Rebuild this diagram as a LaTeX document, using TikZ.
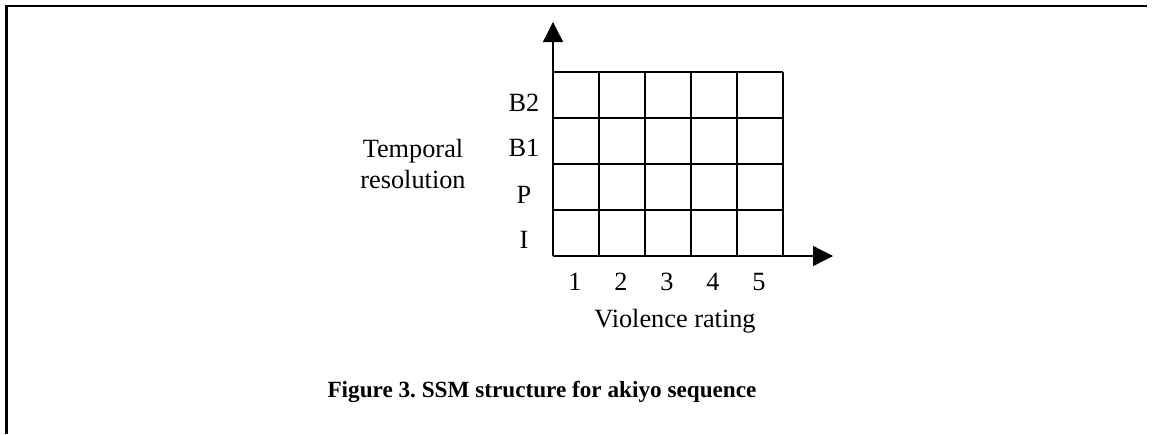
\documentclass[tikz,border=0pt]{standalone}
\usepackage{fontspec}
\setmainfont{Liberation Serif}
\usetikzlibrary{arrows.meta}
\frenchspacing
\begin{document}
\begin{tikzpicture}[x=1pt,y=-1pt,
  lbl/.style={inner sep=0pt,font=\fontsize{26.3}{31}\selectfont},
  captext/.style={inner sep=0pt,font=\fontsize{23.2}{28}\selectfont\bfseries},
  gridline/.style={line width=1.3pt},
  axis/.style={line width=1.3pt,-{Triangle[length=20pt,width=20pt]}},
  frame/.style={line width=2.2pt}]
\useasboundingbox (0,0) rectangle (1156,434);
% frame
\draw[frame] (6.5,434) -- (6.5,6) -- (1147,6);
% grid
\foreach \i in {0,...,5} \draw[gridline] (553+46*\i,72) -- (553+46*\i,256);
\foreach \j in {0,...,3} \draw[gridline] (553,72+46*\j) -- (783,72+46*\j);
% axes
\coordinate (o) at (553,256);
\coordinate (ytip) at (553,22);
\coordinate (xtip) at (833,256);
\draw[axis] (o) -- (ytip);
\draw[axis] (o) -- (xtip);
% row labels
\node[lbl] (b2) at (524,103) {B2};
\node[lbl] (b1) at (524,148) {B1};
\node[lbl] (p) at (524,195) {P};
\node[lbl] (i) at (524,240) {I};
\node[lbl,align=center] (tr) at (413,164) {Temporal\\resolution};
% column labels
\foreach \k in {1,...,5} \node[lbl] (c\k) at (553+46*\k-23-1,282) {\k};
\node[lbl] (vr) at (675,321) {Violence rating};
\node[captext] (caption) at (542,392) {Figure 3. SSM structure for akiyo sequence};
\end{tikzpicture}
\end{document}
